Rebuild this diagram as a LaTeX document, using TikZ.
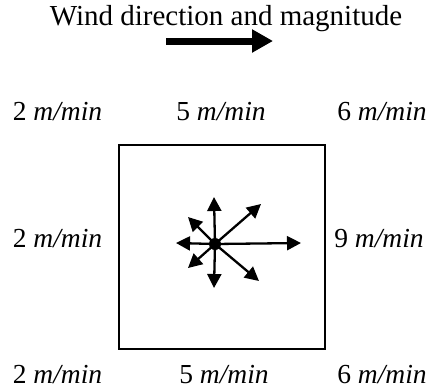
\documentclass[tikz,border=0pt]{standalone}
\usepackage{fontspec}
\setmainfont{Liberation Serif}
\usetikzlibrary{arrows.meta}
\tikzset{
  lbl/.style={anchor=base, inner sep=0pt, font=\fontsize{27.5}{30}\selectfont},
  ttl/.style={anchor=base, inner sep=0pt, font=\fontsize{29}{32}\selectfont},
  vec/.style={line width=2.3pt, -{Triangle[length=14pt,width=14pt]}},
  bigarrow/.style={line width=7pt, -{Triangle[length=21pt,width=22pt]}},
  boxstyle/.style={draw, line width=2.2pt, minimum width=206pt, minimum height=204pt, inner sep=0pt}
}
\begin{document}
\begin{tikzpicture}[x=1pt,y=-1pt]
\useasboundingbox (0,0) rectangle (430,389);
\node[ttl] (title) at (226,25) {Wind direction and magnitude};
\coordinate (a0) at (166,41);
\coordinate (a1) at (273,41);
\draw[bigarrow] (a0) -- (a1);

\node[lbl] (tl) at (57.5,120) {2 \textit{m/min}};
\node[lbl] (tc) at (221,120) {5 \textit{m/min}};
\node[lbl] (tr) at (382,120) {6 \textit{m/min}};
\node[lbl] (ml) at (57.5,247) {2 \textit{m/min}};
\node[lbl] (mr) at (379,247) {9 \textit{m/min}};
\node[lbl] (bl) at (57.5,383) {2 \textit{m/min}};
\node[lbl] (bc) at (224,383) {5 \textit{m/min}};
\node[lbl] (br) at (382,383) {6 \textit{m/min}};

\node[boxstyle] (box) at (222,247) {};

\coordinate (c) at (215,244);
\coordinate (n) at (214,197);
\coordinate (s) at (214,288);
\coordinate (w) at (176,243);
\coordinate (e) at (301,243);
\coordinate (ne) at (261,204);
\coordinate (se) at (259,281);
\coordinate (nw) at (188,217);
\coordinate (sw) at (188,268);
\foreach \t in {n,s,w,e,ne,se,nw,sw} \draw[vec] (c) -- (\t);
\fill (c) circle (6pt);
\end{tikzpicture}
\end{document}
